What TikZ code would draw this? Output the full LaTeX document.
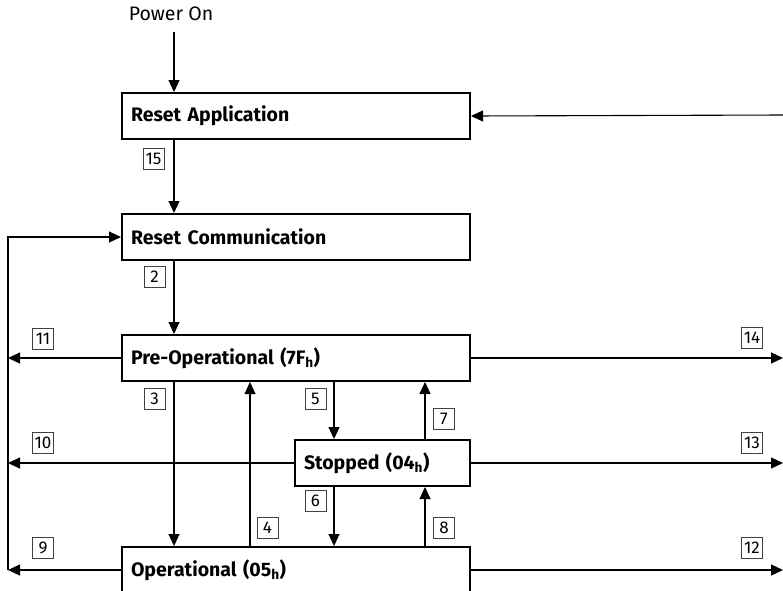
\documentclass[tikz,border=0pt]{standalone}
\usepackage{fontspec}
\setmainfont{Fira Sans}
\usetikzlibrary{arrows.meta}
\tikzset{
  statebox/.style={draw, line width=2pt, minimum height=46pt, inner xsep=9pt, inner ysep=0pt,
    align=left, anchor=north west, font=\fontsize{19.5}{22}\selectfont\bfseries},
  conn/.style={line width=1.1pt, -{Triangle[length=12pt,width=11pt]}},
  numlabel/.style={draw=black!75, line width=0.8pt, minimum width=21pt, minimum height=21pt,
    inner sep=0pt, font=\fontsize{17}{17}\selectfont},
}
\begin{document}
\begin{tikzpicture}[x=1pt,y=-1pt]
\useasboundingbox (0,0) rectangle (783,590);
% columns
\coordinate (xa) at (174,0);
\coordinate (xb) at (250,0);
\coordinate (xc) at (334,0);
\coordinate (xd) at (425,0);
\coordinate (xl) at (8,0);
\coordinate (xr) at (783,0);
\coordinate (rin) at (783,115);
% nodes
\node[font=\fontsize{19.5}{22}\selectfont, inner sep=0pt, minimum height=22pt, anchor=north] (pw) at (171,3) {Power On};
\node[statebox, text width=330pt] (ra) at (121,92) {Reset Application};
\node[statebox, text width=330pt] (rc) at (121,213) {Reset Communication};
\node[statebox, text width=330pt] (po) at (121,334) {Pre-Operational (7F\textsubscript{h})};
\node[statebox, text width=157pt] (st) at (294,439) {Stopped (04\textsubscript{h})};
\node[statebox, text width=330pt] (op) at (121,546) {Operational (05\textsubscript{h})};
% connectors
\draw[conn] ([yshift=-7pt]pw.south -| xa) -- (ra.north -| xa);
\draw[conn] (rin) -- (ra.east);
\draw[conn] (ra.south -| xa) -- (rc.north -| xa);
\draw[conn] (xl |- op.west) -- (xl |- rc.west) -- (rc.west);
\draw[conn] (rc.south -| xa) -- (po.north -| xa);
\draw[conn] (po.west) -- (xl |- po.west);
\draw[conn] (po.east) -- (xr |- po.east);
\draw[conn] (po.south -| xa) -- (op.north -| xa);
\draw[conn] (op.north -| xb) -- (po.south -| xb);
\draw[conn] (po.south -| xc) -- (st.north -| xc);
\draw[conn] (st.north -| xd) -- (po.south -| xd);
\draw[conn] (st.west) -- (xl |- st.west);
\draw[conn] (st.east) -- (xr |- st.east);
\draw[conn] (st.south -| xc) -- (op.north -| xc);
\draw[conn] (op.north -| xd) -- (st.south -| xd);
\draw[conn] (op.west) -- (xl |- op.west);
\draw[conn] (op.east) -- (xr |- op.east);
% number labels
\node[numlabel] (n15) at (153.5,159) {15};
\node[numlabel] (n2) at (154.5,277) {2};
\node[numlabel] (n11) at (43,339) {11};
\node[numlabel] (n14) at (752,338) {14};
\node[numlabel] (n3) at (154.5,399) {3};
\node[numlabel] (n5) at (315.5,399) {5};
\node[numlabel] (n7) at (444,419) {7};
\node[numlabel] (n10) at (43,443) {10};
\node[numlabel] (n13) at (752,443) {13};
\node[numlabel] (n6) at (315.5,501) {6};
\node[numlabel] (n4) at (267.5,527.5) {4};
\node[numlabel] (n8) at (444,527.5) {8};
\node[numlabel] (n9) at (43,548) {9};
\node[numlabel] (n12) at (752,548) {12};
\end{tikzpicture}
\end{document}
